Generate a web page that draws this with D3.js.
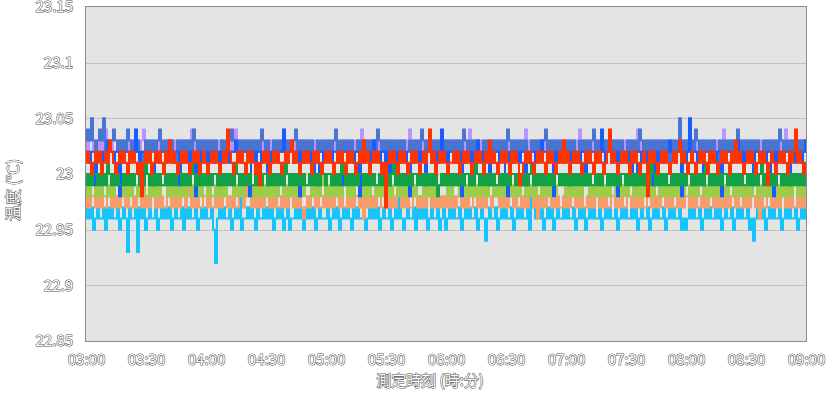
<!DOCTYPE html>
<html>
<head>
<meta charset="utf-8">
<script src="https://cdn.jsdelivr.net/npm/d3@7"></script>
<style>
  body { margin: 0; background: #fff; }
  text { font-family: "Noto Sans CJK JP", "Noto Sans", sans-serif; }
</style>
</head>
<body>
<script>
const yTicks = [22.85, 22.9, 22.95, 23, 23.05, 23.1, 23.15]
const xTicks = ['03:00', '03:30', '04:00', '04:30', '05:00', '05:30', '06:00',
  '06:30', '07:00', '07:30', '08:00', '08:30', '09:00']

// one sample per minute from 03:00
// each hex digit = hundredths of a degree above 22.90
const purple = [
  'cdccdcdcdcedcdccdcdcdcdcdcdcdecdcdcdcdccdcdcdcdcdcdcdecdcdcd',
  'dcdcdcdcdccdcdcedcdcdcdcdcdcdccdcdcdcdcecdcdcdcdcdcdcdcdccdc',
  'cdcdcdccdcdcdcdcdcedcdcdcdcdcdcdcdccdcdcdcecdcdcdcdcdcdcdcdc',
  'dcdcdcdcdcdcecdcdcdccdcdcdcdcdcdcdcdcdcdecdcdcdcdcdccdcdcdcd',
  'cdcdcdcecdcdcdcdcdcdcdccdcdcdcdcdcdcecdcdcdcdcdcdcdcdcdccdcd',
  'dcdcdcdcdccdcdcdcdcecdcdcdcdcdcdcdcdcdccdcdcdcdcdcecdcdcdcdcdc'
].join('')
const steelBlue = [
  'dedfdcdedfcdcdedcdcdcedcdcdcbcdcdcdcdecdcdcdcbdcdcdcdcedcdcd',
  'cdcdcdcbdcdcdedcdcdcdcdcdcdcedcdcbdcdcdcdcdcdecdcdcdcdcbdcdc',
  'dcdcdecdcdcdcdbcdcdcdcdcdcedcdcdcdcdcdcdbcdcdcdcedcdcdcdcdcd',
  'cdcdcdcdcedcdcdcdcbdcdcdcdcdcdcedcdcdcdcdbcdcdcdcdecdcdcdcdc',
  'dcdcdcbdcdcdcdecdcdcdcdcdcdcdbcdcdcdcedcdcdcdcdcdcdcbdcdcfcd',
  'cdcdcedcdcdcdcdcbdcdcdcdcdecdcdcdcdcdbcdcdcdcdcedcdcdcdcdcdcdc'
].join('')
const lightBlue = [
  '676756766757676675676376673767567667567676756766757676675676',
  '766752676766756768566767657667676756767567566767657686756766',
  '675676756767657676675676767567667567686567667576767567667567',
  '567676675676766756764676675676766756767667587676756767567667',
  '676675676756767667567676675686766767567667567676675686766756',
  '567676675686766767567667567676675646766756767667567676675676767'
].join('')
const salmon = [
  '787887878778978787887877878878787987878778878787887897878778',
  '878778787887878778878987878787887878778787887878767878878778',
  '787878878778787887869787878877878787887878778878787887878787',
  '878787887878778878787887898787878878778787887868787887878778',
  '787887878778787887878778878787798787878778878787887878778787',
  '887878778787887878787878878778787887868778878787887878778787878'
].join('')
const yellowGreen = [
  '898998989889898a989898989989898898989899a8989898989889898989',
  '98988989898999898989889989898989898989a8989898989899989898a9',
  '8989898989989898898989899898989898998989898989888989898989a9',
  '98989a98989898989898989989898989a8989899898989889898989899a9',
  '8989898989a9898989898989989898989a898989898989989898989898989',
  '989898a9898989898989899898989898988989898989898989898998989898'
].join('')
const brightBlue = [
  'ccbcc9ccbccdccbcc8cbccbccecbccbcca9ccbccbcdcbcc9cbccbcc8ccbcc',
  'bccbcc9cbccbccdccbcca8ccbccbcc9cbccbccecbccbcc8cbccbcca9ccbcc',
  'cbccbc9ccbccbcc8cbccbcdccbccbc9ccbccbcca8cbccbcc9ccbccbceccbc',
  'ccbcc8cbccbccdccbcc9cbccbcca8ccbccbcc9cbccbccdccbcc8cbccbcc9c',
  'bccbcc9cbccbccecbccbcc8cbccbcca9ccbccbcc9cbccbccdccbcc8cbcfbc',
  'cbcc9ccbccbcc8cbccbccdccbccbc9ccbccbcca8cbccbcc9ccbccbcdccbccbc'
].join('')
const green = [
  'a9a9aa9a9a9ba9a9a99a9a9a9aa9a9ba9a9a9a99a9a9a9aa9a9a9ba9a9a9a',
  '9a9aa9a9a9a9a9ba9a9a9a99a9a9aa9a9a9a9a9ba9a9a9a9a99a9a9a9aa9a',
  'a9a9a9ba9a9a9a9aa9a9a9a99a9a9a9ab9a9a9a9a9aa9a9a9a9a9a89a9a9a',
  '9a9a9a9aa9a9ba9a9a9a9a99a9a9a9aa9a9a9a9ab9a9a9a9a9a9aa9a9a9a9',
  'a9a9a9a9a99a9a9ba9a9a9a9aa9a9a9a9a9a9a9ba9a9a9a99a9a9a9a9aa9a',
  '9a9a9ba9a9a9a9aa9a9a9a9a99a9a9a9ab9a9a9a9aa9a9a9a9a9a9a9ba9a9a9'
].join('')
const red = [
  'bcbabcbcabcbdcbabcbcbacbcbab8bcbcabcbcbacbdbcbabcbcbabcbcabcb',
  'abcbcbabcbecbabcbcbacbcbab9bcbcabcbcbabcbcdbcbabcbcbacbcbabcb',
  'cbabcbcbacbcbabcbdbcabcbcbab7bcbcbacbcbabcbcbabcbcebcabcbcbab',
  'bcbcabcbcbabcbcbacbdbcbabcbcbacbcb9abcbcbabcbcbacbcbabcbdbcab',
  'cbcbabcbcbacbcbabcebcbabcbcbacbcbabcb8cbcbabcbcbabcbcdbcbabcb',
  'abcbcbacbcbabcbcbacbdbcbabcbcbabcbcb9bcbabcbcbacbcebcbabcbcbabc'
].join('')

const seriesData = [purple, steelBlue, lightBlue, salmon, yellowGreen, brightBlue, green, red]
const seriesColors = ['#b994ff', '#4a74d2', '#14c4fa', '#f79d6b', '#9ccc48', '#1a5cff', '#11a146', '#ff3300']

const width = 827
const height = 395
const margin = { top: 7, right: 21, bottom: 54, left: 86 }

const svg = d3.select('body').append('svg')
  .attr('width', width)
  .attr('height', height)

const parseTime = d3.timeParse('%H:%M')
const t0 = parseTime('03:00')
const t1 = parseTime('09:00')

// 360 minutes over 720 px: 2 px per sample
const x = d3.scaleTime()
  .domain([t0, t1])
  .range([margin.left, width - margin.right])
const y = d3.scaleLinear()
  .domain([22.85, 23.15])
  .range([height - margin.bottom, margin.top])

// plot background
svg.append('rect')
  .attr('x', x.range()[0])
  .attr('y', y.range()[1])
  .attr('width', x.range()[1] - x.range()[0])
  .attr('height', y.range()[0] - y.range()[1])
  .attr('fill', '#e4e4e4')

// grid
svg.append('g')
  .selectAll('line')
  .data(yTicks.slice(1, -1))
  .join('line')
  .attr('x1', x.range()[0])
  .attr('x2', x.range()[1])
  .attr('y1', d => Math.round(y(d)) + 0.5)
  .attr('y2', d => Math.round(y(d)) + 0.5)
  .attr('stroke', '#c2c2c2')

svg.append('clipPath')
  .attr('id', 'plot')
  .append('rect')
  .attr('x', x.range()[0])
  .attr('y', y.range()[1])
  .attr('width', x.range()[1] - x.range()[0])
  .attr('height', y.range()[0] - y.range()[1])

// series
const decode = s => Array.from(s, (c, i) => ({
  t: d3.timeMinute.offset(t0, i),
  v: 22.9 + parseInt(c, 16) / 100
}))

const line = d3.line()
  .curve(d3.curveStep)
  .x(d => x(d.t))
  .y(d => y(d.v))

svg.append('g')
  .attr('clip-path', 'url(#plot)')
  .selectAll('path')
  .data(seriesData.map(decode))
  .join('path')
  .attr('d', line)
  .attr('fill', 'none')
  .attr('stroke', (d, i) => seriesColors[i])
  .attr('stroke-width', 2)

// frame
svg.append('rect')
  .attr('x', x.range()[0] - 0.5)
  .attr('y', y.range()[1] - 0.5)
  .attr('width', x.range()[1] - x.range()[0] + 1)
  .attr('height', y.range()[0] - y.range()[1] + 1)
  .attr('fill', 'none')
  .attr('stroke', '#8a8a8a')

function outlined(sel) {
  sel.attr('fill', '#fff')
    .attr('stroke', '#555')
    .attr('stroke-width', 1.1)
    .style('paint-order', 'stroke')
}

// axes
const yAxis = svg.append('g')
  .attr('transform', `translate(${x.range()[0]},0)`)
  .call(d3.axisLeft(y).tickValues(yTicks).tickFormat(d3.format('~g')).tickSize(0).tickPadding(13))
yAxis.select('.domain').remove()
yAxis.selectAll('text')
  .style('font-size', '15px')
  .call(outlined)

const xAxis = svg.append('g')
  .attr('transform', `translate(0,${y.range()[0]})`)
  .call(d3.axisBottom(x).tickValues(xTicks.map(parseTime)).tickFormat(d3.timeFormat('%H:%M')).tickSize(0).tickPadding(13))
xAxis.select('.domain').remove()
xAxis.selectAll('text')
  .style('font-size', '15px')
  .call(outlined)

// axis titles
svg.append('text')
  .attr('transform', 'translate(19,190) rotate(-90)')
  .attr('text-anchor', 'middle')
  .style('font-size', '16px')
  .text('温度 (℃)')
  .call(outlined)

svg.append('text')
  .attr('x', 430)
  .attr('y', 386)
  .attr('text-anchor', 'middle')
  .style('font-size', '15px')
  .text('測定時刻 (時:分)')
  .call(outlined)
</script>
</body>
</html>
